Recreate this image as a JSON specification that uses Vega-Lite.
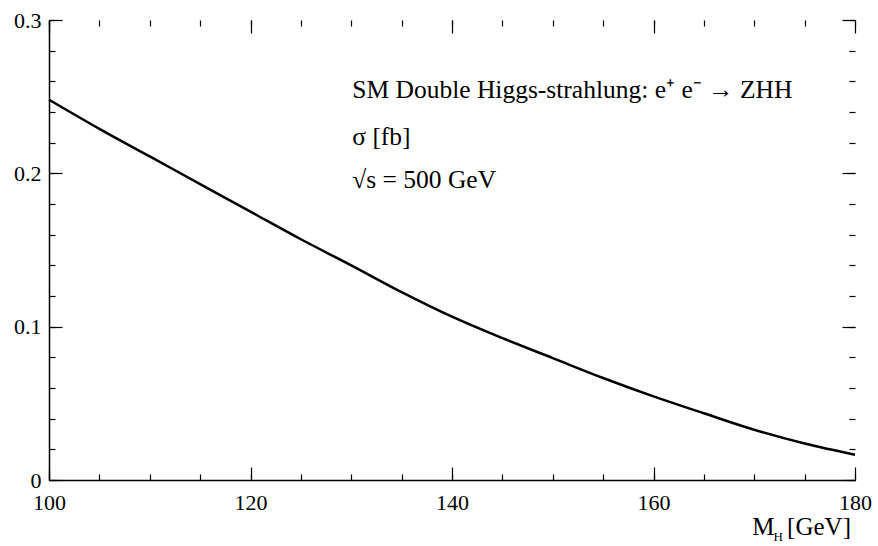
{
  "$schema": "https://vega.github.io/schema/vega-lite/v6.json",
  "width": 806,
  "height": 460,
  "autosize": {"type": "none"},
  "padding": {"left": 49, "top": 20, "right": 23, "bottom": 66},
  "background": "white",
  "config": {
    "view": {"stroke": null},
    "font": "Liberation Serif",
    "text": {"font": "Liberation Serif"},
    "axis": {
      "grid": false,
      "labelFont": "Liberation Serif",
      "labelFontSize": 22,
      "labelColor": "black",
      "domainColor": "black",
      "tickColor": "black",
      "labelFlush": false,
      "tickWidth": 1.2
    }
  },
  "datasets": {
    "curve": [
      {"MH": 100, "sigma": 0.248},
      {"MH": 105, "sigma": 0.229},
      {"MH": 110, "sigma": 0.211},
      {"MH": 115, "sigma": 0.193},
      {"MH": 120, "sigma": 0.175},
      {"MH": 125, "sigma": 0.157},
      {"MH": 130, "sigma": 0.140},
      {"MH": 135, "sigma": 0.1225},
      {"MH": 140, "sigma": 0.1065},
      {"MH": 145, "sigma": 0.0925},
      {"MH": 150, "sigma": 0.0795},
      {"MH": 155, "sigma": 0.0665},
      {"MH": 160, "sigma": 0.0545},
      {"MH": 165, "sigma": 0.0435},
      {"MH": 170, "sigma": 0.0328},
      {"MH": 175, "sigma": 0.0238},
      {"MH": 180, "sigma": 0.0165}
    ]
  },
  "data": {"name": "curve"},
  "layer": [
    {
      "mark": {"type": "line", "color": "black", "strokeWidth": 2.5, "interpolate": "monotone"},
      "encoding": {
        "x": {"field": "MH", "type": "quantitative",
          "scale": {"domain": [100, 180], "nice": false, "zero": false},
          "axis": {"orient": "bottom", "values": [100, 120, 140, 160, 180], "ticks": false, "domain": true, "domainWidth": 1.5, "labelPadding": 12, "title": null}},
        "y": {"field": "sigma", "type": "quantitative",
          "scale": {"domain": [0, 0.3], "nice": false},
          "axis": {"orient": "left", "values": [0, 0.1, 0.2, 0.3], "ticks": false, "domain": true, "domainWidth": 1.5, "labelPadding": 8, "format": "~g", "title": null}}
      }
    },
    {
      "mark": {"type": "point", "opacity": 0},
      "encoding": {
        "x": {"field": "MH", "type": "quantitative",
          "axis": {"orient": "bottom", "values": [100, 120, 140, 160, 180], "labels": false, "domain": false, "tickSize": -13, "title": null}},
        "y": {"field": "sigma", "type": "quantitative",
          "axis": {"orient": "left", "values": [0, 0.1, 0.2, 0.3], "labels": false, "domain": false, "tickSize": -13, "title": null}}
      }
    },
    {
      "mark": {"type": "point", "opacity": 0},
      "encoding": {
        "x": {"field": "MH", "type": "quantitative",
          "axis": {"orient": "bottom", "values": [100, 105, 110, 115, 120, 125, 130, 135, 140, 145, 150, 155, 160, 165, 170, 175, 180], "labels": false, "domain": false, "tickSize": -6, "title": null}},
        "y": {"field": "sigma", "type": "quantitative",
          "axis": {"orient": "left", "values": [0, 0.02, 0.04, 0.06, 0.08, 0.1, 0.12, 0.14, 0.16, 0.18, 0.2, 0.22, 0.24, 0.26, 0.28, 0.3], "labels": false, "domain": false, "tickSize": -6, "title": null}}
      }
    },
    {
      "mark": {"type": "point", "opacity": 0},
      "encoding": {
        "x": {"field": "MH", "type": "quantitative",
          "axis": {"orient": "top", "values": [100, 120, 140, 160, 180], "labels": false, "domain": false, "tickSize": -13, "title": null}},
        "y": {"field": "sigma", "type": "quantitative",
          "axis": {"orient": "right", "values": [0, 0.1, 0.2, 0.3], "labels": false, "domain": false, "tickSize": -13, "title": null}}
      }
    },
    {
      "mark": {"type": "point", "opacity": 0},
      "encoding": {
        "x": {"field": "MH", "type": "quantitative",
          "axis": {"orient": "top", "values": [100, 105, 110, 115, 120, 125, 130, 135, 140, 145, 150, 155, 160, 165, 170, 175, 180], "labels": false, "domain": false, "tickSize": -6, "title": null}},
        "y": {"field": "sigma", "type": "quantitative",
          "axis": {"orient": "right", "values": [0, 0.02, 0.04, 0.06, 0.08, 0.1, 0.12, 0.14, 0.16, 0.18, 0.2, 0.22, 0.24, 0.26, 0.28, 0.3], "labels": false, "domain": false, "tickSize": -6, "title": null}}
      }
    },
    {
      "data": {"values": [{"label": "SM Double Higgs-strahlung: e⁺ e⁻ → ZHH"}]},
      "mark": {"type": "text", "align": "left", "baseline": "alphabetic", "fontSize": 25.5, "font": "Liberation Serif", "color": "black"},
      "encoding": {
        "text": {"field": "label"},
        "x": {"datum": 130.1, "type": "quantitative", "axis": null},
        "y": {"datum": 0.249, "type": "quantitative", "axis": null}
      }
    },
    {
      "data": {"values": [{"label": "σ [fb]"}]},
      "mark": {"type": "text", "align": "left", "baseline": "alphabetic", "fontSize": 25.5, "font": "Liberation Serif", "color": "black"},
      "encoding": {
        "text": {"field": "label"},
        "x": {"datum": 130.1, "type": "quantitative", "axis": null},
        "y": {"datum": 0.2185, "type": "quantitative", "axis": null}
      }
    },
    {
      "data": {"values": [{"label": "√s = 500 GeV"}]},
      "mark": {"type": "text", "align": "left", "baseline": "alphabetic", "fontSize": 25.5, "font": "Liberation Serif", "color": "black"},
      "encoding": {
        "text": {"field": "label"},
        "x": {"datum": 130.1, "type": "quantitative", "axis": null},
        "y": {"datum": 0.1905, "type": "quantitative", "axis": null}
      }
    },
    {
      "data": {"values": [{"label": "M"}]},
      "mark": {"type": "text", "align": "left", "baseline": "alphabetic", "fontSize": 25, "font": "Liberation Serif", "color": "black"},
      "encoding": {
        "text": {"field": "label"},
        "x": {"datum": 169.8, "type": "quantitative", "axis": null},
        "y": {"datum": -0.0359, "type": "quantitative", "axis": null}
      }
    },
    {
      "data": {"values": [{"label": "H"}]},
      "mark": {"type": "text", "align": "left", "baseline": "alphabetic", "fontSize": 13, "font": "Liberation Serif", "color": "black"},
      "encoding": {
        "text": {"field": "label"},
        "x": {"datum": 171.9, "type": "quantitative", "axis": null},
        "y": {"datum": -0.0398, "type": "quantitative", "axis": null}
      }
    },
    {
      "data": {"values": [{"label": "[GeV]"}]},
      "mark": {"type": "text", "align": "right", "baseline": "alphabetic", "fontSize": 25, "font": "Liberation Serif", "color": "black"},
      "encoding": {
        "text": {"field": "label"},
        "x": {"datum": 179.6, "type": "quantitative", "axis": null},
        "y": {"datum": -0.0359, "type": "quantitative", "axis": null}
      }
    }
  ],
  "resolve": {"axis": {"x": "independent", "y": "independent"}}
}
